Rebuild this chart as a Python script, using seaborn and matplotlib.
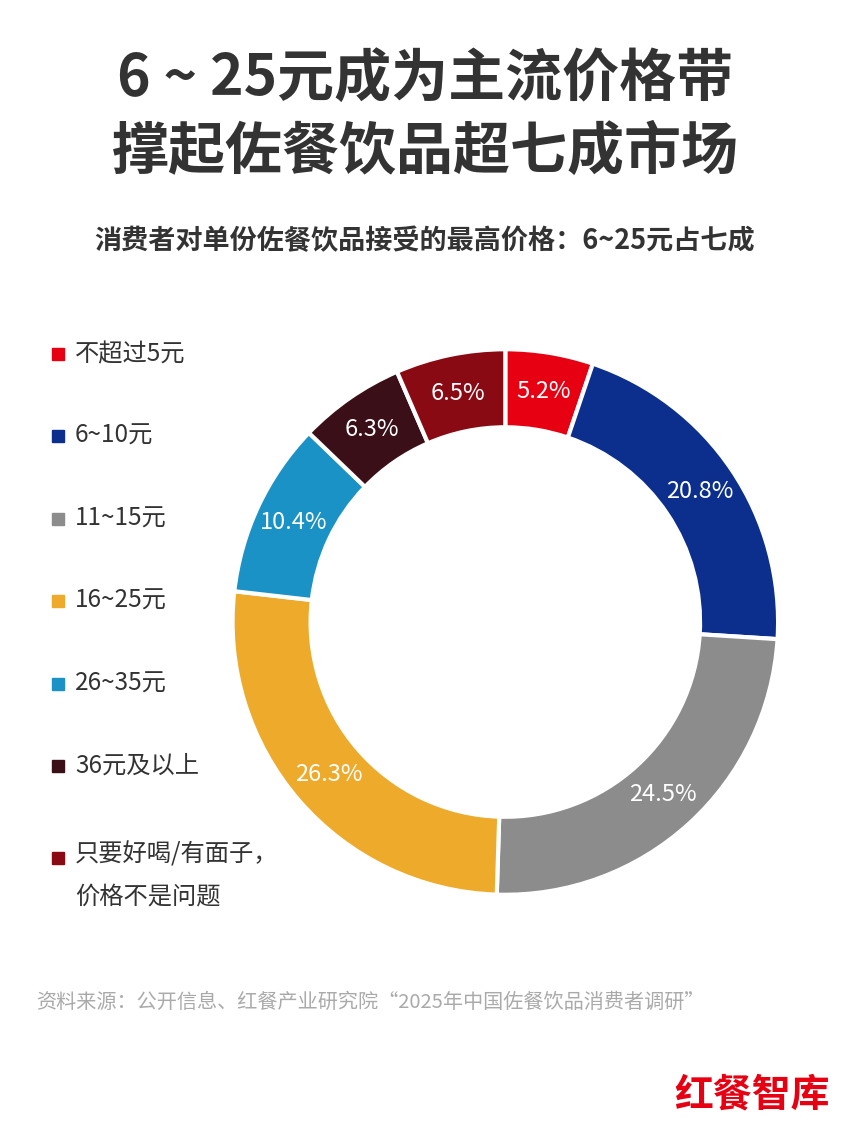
import matplotlib
matplotlib.use("Agg")
import matplotlib.pyplot as plt
import seaborn as sns
import numpy as np

# 数据
categories = ['不超过5元', '6~10元', '11~15元', '16~25元', '26~35元', '36元及以上',
              '只要好喝/有面子，\n价格不是问题']
shares = [5.2, 20.8, 24.5, 26.3, 10.4, 6.3, 6.5]
colors = ['#E60012', '#0C2F8E', '#8C8C8C', '#EDAA2B', '#1B92C5', '#3B0F18', '#8A0A14']

sns.set_theme(style="white")
plt.rcParams['font.family'] = ['Noto Sans CJK SC', 'DejaVu Sans']

fig = plt.figure(figsize=(8.5, 11.33), dpi=100)
fig.patch.set_facecolor('white')

fig.text(0.5, 0.930, '6 ~ 25元成为主流价格带', ha='center', va='center',
         fontsize=41, fontweight='bold', color='#333333')
fig.text(0.5, 0.866, '撑起佐餐饮品超七成市场', ha='center', va='center',
         fontsize=41, fontweight='bold', color='#333333')
fig.text(0.5, 0.787, '消费者对单份佐餐饮品接受的最高价格：6~25元占七成', ha='center',
         va='center', fontsize=19.5, fontweight='bold', color='#333333')

ax = fig.add_axes([0.265, 0.204, 0.659, 0.494])
wedges, texts = ax.pie(shares, colors=colors, startangle=90, counterclock=False,
                       radius=1, wedgeprops=dict(width=0.286, edgecolor='white', linewidth=3))
for w, v in zip(wedges, shares):
    ang = np.deg2rad((w.theta1 + w.theta2) / 2)
    ax.text(0.857 * np.cos(ang), 0.857 * np.sin(ang), f'{v}%', ha='center', va='center',
            color='white', fontsize=17)
ax.set_xlim(-1.026, 1.026)
ax.set_ylim(-1.026, 1.026)
ax.set_aspect('equal')
ax.axis('off')

# 图例
legend_y = [354, 436, 519, 601, 684, 766, 858]
for cat, col, y in zip(categories, colors, legend_y):
    fy = 1 - y / 1133
    fig.patches.append(plt.Rectangle((52 / 850, fy - 6 / 1133), 12 / 850, 12 / 1133,
                                     transform=fig.transFigure, color=col))
    if '\n' in cat:
        fig.text(75 / 850, fy + 16 / 1133, cat, ha='left', va='top', fontsize=17.5,
                 color='#333333', linespacing=1.75)
    else:
        fig.text(75 / 850, fy, cat, ha='left', va='center', fontsize=17.5, color='#333333')

fig.text(36 / 850, 1 - 1002 / 1133, '资料来源：公开信息、红餐产业研究院“2025年中国佐餐饮品消费者调研”',
         ha='left', va='center', fontsize=14.5, color='#AAAAAA')
fig.text(830 / 850, 1 - 1095 / 1133, '红餐智库', ha='right', va='center',
         fontsize=28, fontweight='bold', color='#E60012')

fig.savefig('out.png', dpi=100, facecolor='white')
